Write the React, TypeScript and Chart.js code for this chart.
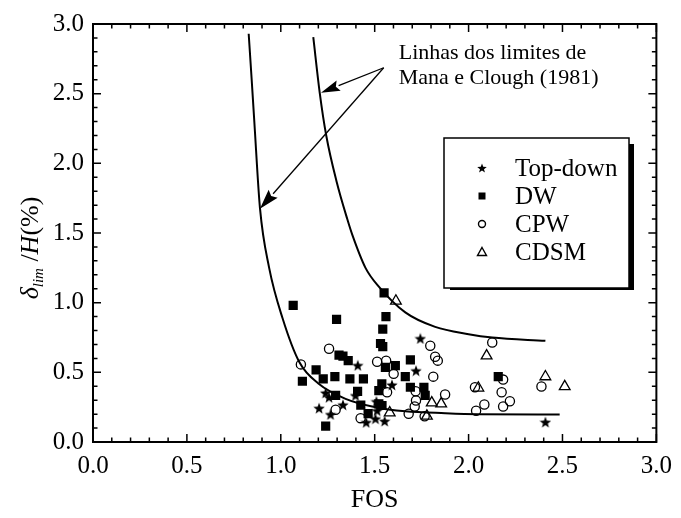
import React, { useEffect, useRef } from 'react';
import { Chart, registerables } from 'chart.js';

Chart.register(...registerables);

// ---- Data (FOS, δlim/H %) ----
const topDownFOS = [1.743, 1.41, 1.72, 1.592, 1.239, 1.257, 1.398, 1.331, 1.204, 1.265, 1.509, 1.513, 1.455, 1.504, 1.553, 2.409];
const topDownDelta = [0.743, 0.55, 0.512, 0.41, 0.353, 0.321, 0.334, 0.267, 0.243, 0.198, 0.291, 0.226, 0.141, 0.167, 0.15, 0.143];

const dwFOS = [1.066, 1.55, 1.56, 1.297, 1.543, 1.531, 1.543, 1.31, 1.331, 1.359, 1.61, 1.557, 1.69, 1.188, 1.115, 1.226, 1.288, 1.368, 1.44, 1.663, 1.409, 1.538, 1.69, 1.762, 1.292, 1.522, 1.769, 1.426, 1.522, 1.539, 1.465, 1.239, 2.158];
const dwDelta = [0.98, 1.07, 0.9, 0.88, 0.81, 0.707, 0.684, 0.624, 0.617, 0.584, 0.548, 0.536, 0.589, 0.517, 0.436, 0.453, 0.469, 0.453, 0.453, 0.469, 0.364, 0.417, 0.393, 0.393, 0.334, 0.369, 0.334, 0.264, 0.274, 0.262, 0.203, 0.114, 0.469];

const cpwFOS = [1.257, 1.107, 1.513, 1.561, 1.601, 1.796, 1.822, 1.836, 1.812, 1.566, 1.718, 1.72, 1.875, 1.713, 1.681, 1.425, 1.292, 1.766, 2.034, 2.04, 2.126, 2.184, 2.176, 2.084, 2.22, 2.184, 2.388];
const cpwDelta = [0.669, 0.557, 0.576, 0.584, 0.489, 0.691, 0.612, 0.584, 0.469, 0.357, 0.364, 0.298, 0.341, 0.255, 0.203, 0.171, 0.231, 0.184, 0.393, 0.224, 0.714, 0.448, 0.357, 0.269, 0.293, 0.255, 0.398];

const cdsmFOS = [1.613, 1.58, 1.804, 1.854, 1.778, 2.096, 2.052, 2.409, 2.512];
const cdsmDelta = [1.012, 0.21, 0.281, 0.274, 0.186, 0.619, 0.388, 0.469, 0.398];

// Mana & Clough (1981) limit lines
const lowerLimitFOS = [0.829, 0.845, 0.859, 0.889, 0.938, 1.009, 1.1, 1.2, 1.345, 1.504, 1.663, 1.875, 2.05, 2.485];
const lowerLimitDelta = [2.93, 2.6, 2.3, 1.68, 1.25, 0.89, 0.57, 0.42, 0.31, 0.25, 0.221, 0.207, 0.2, 0.198];
const upperLimitFOS = [1.173, 1.207, 1.242, 1.297, 1.354, 1.38, 1.451, 1.522, 1.663, 1.822, 2.0, 2.126, 2.409];
const upperLimitDelta = [2.905, 2.51, 2.2, 1.87, 1.6, 1.49, 1.25, 1.115, 0.93, 0.826, 0.774, 0.75, 0.726];

const axisTicks = [0, 0.5, 1.0, 1.5, 2.0, 2.5, 3.0];
const seriesNames = ['Top-down', 'DW', 'CPW', 'CDSM'];
const annotationLines = ['Linhas dos limites de', 'Mana e Clough (1981)'];
const xTitle = 'FOS';

const SERIF = "'Liberation Serif', 'Times New Roman', Times, serif";

const zip = (xs: number[], ys: number[]) => xs.map((x, i) => ({ x, y: ys[i] }));

function makeStar(size: number) {
  const c = document.createElement('canvas');
  c.width = size;
  c.height = size;
  const ctx = c.getContext('2d')!;
  const cx = size / 2;
  const cy = size / 2 + size * 0.05;
  const R = size / 2;
  const r = R * 0.42;
  ctx.beginPath();
  for (let i = 0; i < 10; i++) {
    const a = -Math.PI / 2 + (i * Math.PI) / 5;
    const rr = i % 2 === 0 ? R : r;
    ctx.lineTo(cx + rr * Math.cos(a), cy + rr * Math.sin(a));
  }
  ctx.closePath();
  ctx.fillStyle = '#000';
  ctx.fill();
  return c;
}

function drawStarPath(ctx: CanvasRenderingContext2D, cx: number, cy: number, R: number) {
  const r = R * 0.42;
  ctx.beginPath();
  for (let i = 0; i < 10; i++) {
    const a = -Math.PI / 2 + (i * Math.PI) / 5;
    const rr = i % 2 === 0 ? R : r;
    ctx.lineTo(cx + rr * Math.cos(a), cy + rr * Math.sin(a));
  }
  ctx.closePath();
}

function drawArrow(ctx: CanvasRenderingContext2D, x0: number, y0: number, x1: number, y1: number, len: number, hw: number) {
  const dx = x1 - x0;
  const dy = y1 - y0;
  const d = Math.hypot(dx, dy);
  const ux = dx / d;
  const uy = dy / d;
  const bx = x1 - ux * len;
  const by = y1 - uy * len;
  ctx.beginPath();
  ctx.moveTo(x0, y0);
  ctx.lineTo(bx, by);
  ctx.stroke();
  ctx.beginPath();
  ctx.moveTo(x1, y1);
  ctx.lineTo(bx - uy * hw, by + ux * hw);
  ctx.lineTo(bx + ux * 3, by + uy * 3);
  ctx.lineTo(bx + uy * hw, by - ux * hw);
  ctx.closePath();
  ctx.fill();
}

const decorPlugin = {
  id: 'decor',
  afterDatasetsDraw(chart: any) {
    const { ctx, chartArea: ca, scales } = chart;
    const xs = scales.x;
    const ys = scales.y;
    ctx.save();
    ctx.strokeStyle = '#000';
    ctx.fillStyle = '#000';

    // Frame
    ctx.lineWidth = 2;
    ctx.strokeRect(ca.left, ca.top, ca.right - ca.left, ca.bottom - ca.top);

    // Inward ticks on all four sides
    ctx.lineWidth = 1.5;
    for (let i = 0; i <= 30; i++) {
      const v = i / 10;
      const major = i % 5 === 0;
      const L = major ? 8 : 4.5;
      const px = xs.getPixelForValue(v);
      const py = ys.getPixelForValue(v);
      ctx.beginPath();
      ctx.moveTo(px, ca.bottom); ctx.lineTo(px, ca.bottom - L);
      ctx.moveTo(px, ca.top); ctx.lineTo(px, ca.top + L);
      ctx.moveTo(ca.left, py); ctx.lineTo(ca.left + L, py);
      ctx.moveTo(ca.right, py); ctx.lineTo(ca.right - L, py);
      ctx.stroke();
    }

    // Annotation arrows
    ctx.lineWidth = 1.3;
    const ax = xs.getPixelForValue(1.548);
    const ay = ys.getPixelForValue(2.686);
    drawArrow(ctx, ax, ay, xs.getPixelForValue(1.214), ys.getPixelForValue(2.507), 19, 5.5);
    drawArrow(ctx, ax, ay, xs.getPixelForValue(0.889), ys.getPixelForValue(1.674), 20, 6);

    // Annotation text
    ctx.font = `22px ${SERIF}`;
    ctx.textAlign = 'left';
    ctx.textBaseline = 'alphabetic';
    ctx.fillText(annotationLines[0], xs.getPixelForValue(1.628), ys.getPixelForValue(2.75));
    ctx.fillText(annotationLines[1], xs.getPixelForValue(1.628), ys.getPixelForValue(2.571));

    // Legend box with shadow
    const L0 = 444, T0 = 138, R0 = 629, B0 = 288;
    ctx.fillStyle = '#000';
    ctx.fillRect(R0, T0 + 6, 5, B0 - T0 - 4);
    ctx.fillRect(L0 + 6, B0, R0 - L0 - 1, 2);
    ctx.fillStyle = '#fff';
    ctx.fillRect(L0, T0, R0 - L0, B0 - T0);
    ctx.lineWidth = 1.5;
    ctx.strokeRect(L0, T0, R0 - L0, B0 - T0);

    const mx = 482;
    const tx = 515;
    const rows = [168, 196, 224, 252];
    ctx.fillStyle = '#000';
    ctx.font = `25px ${SERIF}`;
    ctx.textBaseline = 'middle';
    seriesNames.forEach((name, i) => {
      const cy = rows[i];
      ctx.fillStyle = '#000';
      ctx.strokeStyle = '#000';
      ctx.lineWidth = 1.4;
      if (i === 0) {
        drawStarPath(ctx, mx, cy + 0.5, 5);
        ctx.fill();
      } else if (i === 1) {
        ctx.fillRect(mx - 3.5, cy - 3.5, 7, 7);
      } else if (i === 2) {
        ctx.beginPath();
        ctx.arc(mx, cy, 3.5, 0, Math.PI * 2);
        ctx.stroke();
      } else {
        ctx.beginPath();
        ctx.moveTo(mx, cy - 4.5);
        ctx.lineTo(mx + 4.5, cy + 3.5);
        ctx.lineTo(mx - 4.5, cy + 3.5);
        ctx.closePath();
        ctx.stroke();
      }
      ctx.fillText(name, tx, cy + 1);
    });

    // Y-axis title: δ_lim / H (%)
    const bigFont = 26;
    const subFont = 15;
    const segs = [
      { t: 'δ', f: `italic ${bigFont}px ${SERIF}`, dy: 0 },
      { t: 'lim', f: `italic ${subFont}px ${SERIF}`, dy: 5 },
      { t: ' /', f: `${bigFont}px ${SERIF}`, dy: 0 },
      { t: 'H', f: `italic ${bigFont}px ${SERIF}`, dy: 0 },
      { t: '(%)', f: `${bigFont}px ${SERIF}`, dy: 0 },
    ];
    let total = 0;
    const widths = segs.map((s) => {
      ctx.font = s.f;
      const w = ctx.measureText(s.t).width;
      total += w;
      return w;
    });
    ctx.translate(38, 248);
    ctx.rotate(-Math.PI / 2);
    ctx.textAlign = 'left';
    ctx.textBaseline = 'alphabetic';
    let cx = -total / 2;
    segs.forEach((s, i) => {
      ctx.font = s.f;
      ctx.fillText(s.t, cx, s.dy);
      cx += widths[i];
    });

    ctx.restore();
  },
};

export default function App() {
  const ref = useRef<HTMLCanvasElement | null>(null);

  useEffect(() => {
    if (!ref.current) return;
    const star = makeStar(12);
    const tickFont = { family: SERIF, size: 25 };
    const fmt = (v: any) => (axisTicks.includes(Number(v)) ? Number(v).toFixed(1) : '');

    const chart = new Chart(ref.current, {
      type: 'scatter',
      data: {
        datasets: [
          {
            label: 'lower limit',
            data: zip(lowerLimitFOS, lowerLimitDelta),
            showLine: true,
            borderColor: '#000',
            borderWidth: 2,
            pointRadius: 0,
            cubicInterpolationMode: 'monotone',
            order: 10,
          } as any,
          {
            label: 'upper limit',
            data: zip(upperLimitFOS, upperLimitDelta),
            showLine: true,
            borderColor: '#000',
            borderWidth: 2,
            pointRadius: 0,
            cubicInterpolationMode: 'monotone',
            order: 10,
          } as any,
          {
            label: seriesNames[1],
            data: zip(dwFOS, dwDelta),
            pointStyle: 'rect',
            pointRadius: 6.5,
            backgroundColor: '#000',
            borderColor: '#000',
            borderWidth: 0,
            order: 4,
          },
          {
            label: seriesNames[2],
            data: zip(cpwFOS, cpwDelta),
            pointStyle: 'circle',
            pointRadius: 4.6,
            backgroundColor: 'rgba(255,255,255,0)',
            borderColor: '#000',
            borderWidth: 1.3,
            order: 3,
          },
          {
            label: seriesNames[3],
            data: zip(cdsmFOS, cdsmDelta),
            pointStyle: 'triangle',
            pointRadius: 6.2,
            backgroundColor: 'rgba(255,255,255,0)',
            borderColor: '#000',
            borderWidth: 1.3,
            order: 2,
          },
          {
            label: seriesNames[0],
            data: zip(topDownFOS, topDownDelta),
            pointStyle: star as any,
            pointRadius: 6,
            order: 1,
          },
        ],
      },
      options: {
        animation: false,
        responsive: false,
        maintainAspectRatio: false,
        events: [],
        layout: { padding: { top: 22, right: 22, left: 0, bottom: 0 } },
        plugins: { legend: { display: false }, tooltip: { enabled: false } },
        scales: {
          x: {
            type: 'linear',
            min: 0,
            max: 3,
            grid: { display: false, drawTicks: false },
            border: { display: false },
            ticks: { stepSize: 0.5, callback: fmt, font: tickFont, color: '#000', padding: 9, maxRotation: 0, autoSkip: false },
            title: { display: true, text: xTitle, font: { family: SERIF, size: 26 }, color: '#000', padding: { top: 0, bottom: 2 } },
            afterFit: (s: any) => { s.height = 76; },
          },
          y: {
            type: 'linear',
            min: 0,
            max: 3,
            grid: { display: false, drawTicks: false },
            border: { display: false },
            ticks: { stepSize: 0.5, callback: fmt, font: tickFont, color: '#000', padding: 9, autoSkip: false },
            afterFit: (s: any) => { s.width = 93; },
          },
        },
      },
      plugins: [decorPlugin],
    });
    return () => chart.destroy();
  }, []);

  return (
    <div style={{ position: 'fixed', left: 0, top: 0, width: 681, height: 518, background: '#fff' }}>
      <canvas ref={ref} width={681} height={518} style={{ display: 'block', width: 681, height: 518 }} />
    </div>
  );
}
